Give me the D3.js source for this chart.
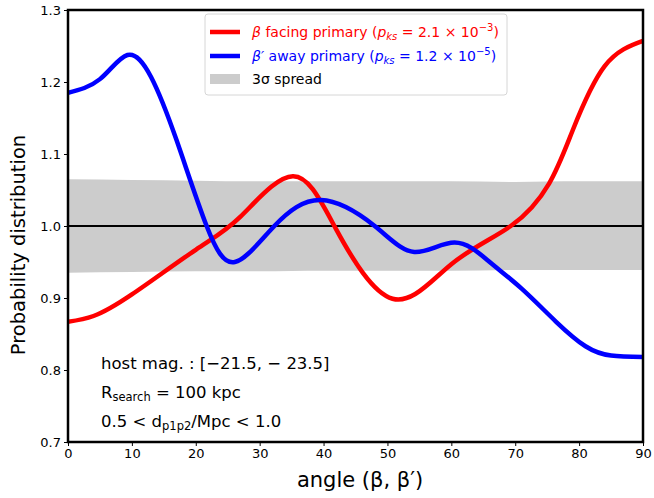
<!DOCTYPE html>
<html>
<head>
<meta charset="utf-8">
<script src="https://cdn.jsdelivr.net/npm/d3@7"></script>
<style>
  body { margin: 0; background: #fff; }
  svg { font-family: "DejaVu Sans", sans-serif; }
</style>
</head>
<body>
<svg id="chart" width="654" height="498"></svg>
<script>
// values
const redAngles  = [0, 4, 10, 20, 27, 35.2, 42, 50.8, 60, 69.3, 75.3, 79, 84, 90];
const redValues  = [0.867, 0.875, 0.905, 0.967, 1.013, 1.069, 0.995, 0.899, 0.947, 1.000, 1.059, 1.133, 1.222, 1.257];
const blueAngles = [0, 5, 9.3, 13, 17, 21.7, 26.1, 32.3, 39.6, 48, 54.2, 60.5, 66, 71, 76.4, 81, 85, 90];
const blueValues = [1.185, 1.204, 1.2375, 1.207, 1.119, 1.000, 0.950, 1.000, 1.036, 1.000, 0.964, 0.977, 0.950, 0.913, 0.867, 0.833, 0.820, 0.818];
const bandAngles = [0, 10, 20, 30, 40, 50, 60, 70, 80, 90];
const bandUpper  = [1.065, 1.064, 1.063, 1.062, 1.062, 1.062, 1.062, 1.061, 1.062, 1.062];
const bandLower  = [0.935, 0.936, 0.937, 0.937, 0.938, 0.938, 0.938, 0.939, 0.939, 0.939];
const xTicks = [0, 10, 20, 30, 40, 50, 60, 70, 80, 90];
const yTicks = [0.7, 0.8, 0.9, 1.0, 1.1, 1.2, 1.3];

const svg = d3.select('#chart');
const m = {left: 68, right: 643, top: 10, bottom: 442};

const x = d3.scaleLinear().domain([0, 90]).range([m.left, m.right]);
const y = d3.scaleLinear().domain([0.7, 1.3]).range([m.bottom, m.top]);

svg.append('clipPath').attr('id', 'plot-clip')
  .append('rect')
    .attr('x', m.left).attr('y', m.top)
    .attr('width', m.right - m.left).attr('height', m.bottom - m.top);

const g = svg.append('g').attr('clip-path', 'url(#plot-clip)');

// 3 sigma band
const band = bandAngles.map((a, i) => ({a: a, lo: bandLower[i], hi: bandUpper[i]}));
g.append('path')
    .datum(band)
    .attr('fill', '#cccccc')
    .attr('d', d3.area().x(d => x(d.a)).y0(d => y(d.lo)).y1(d => y(d.hi)).curve(d3.curveMonotoneX));

// reference line at 1
g.append('line')
    .attr('x1', x(0)).attr('x2', x(90))
    .attr('y1', y(1)).attr('y2', y(1))
    .attr('stroke', '#000').attr('stroke-width', 2);

const line = d3.line().x(d => x(d[0])).y(d => y(d[1])).curve(d3.curveNatural);

g.append('path')
    .datum(redAngles.map((a, i) => [a, redValues[i]]))
    .attr('fill', 'none').attr('stroke', '#ff0000').attr('stroke-width', 4.5)
    .attr('d', line);

g.append('path')
    .datum(blueAngles.map((a, i) => [a, blueValues[i]]))
    .attr('fill', 'none').attr('stroke', '#0000ff').attr('stroke-width', 4.5)
    .attr('d', line);

// axes
const xAxis = svg.append('g')
    .attr('transform', `translate(0,${m.bottom})`)
    .call(d3.axisBottom(x).tickValues(xTicks).tickSize(4).tickPadding(3).tickFormat(d3.format('d')));
const yAxis = svg.append('g')
    .attr('transform', `translate(${m.left},0)`)
    .call(d3.axisLeft(y).tickValues(yTicks).tickSize(4).tickPadding(3).tickFormat(d3.format('.1f')));

[xAxis, yAxis].forEach(ax => {
  ax.select('.domain').remove();
  ax.selectAll('text').attr('font-size', 13).attr('font-family', '"DejaVu Sans", sans-serif').attr('fill', '#000');
  ax.selectAll('line').attr('stroke', '#000').attr('stroke-width', 1);
});

// frame
svg.append('rect')
    .attr('x', m.left).attr('y', m.top)
    .attr('width', m.right - m.left).attr('height', m.bottom - m.top)
    .attr('fill', 'none').attr('stroke', '#000').attr('stroke-width', 2.5);

// axis labels
svg.append('text')
    .attr('x', 360).attr('y', 487)
    .attr('text-anchor', 'middle').attr('font-size', 21)
    .text('angle (β, β′)');

svg.append('text')
    .attr('transform', 'translate(25,245) rotate(-90)')
    .attr('text-anchor', 'middle').attr('font-size', 19.5)
    .text('Probability distribution');

// legend
const lg = svg.append('g');
lg.append('rect')
    .attr('x', 205).attr('y', 14).attr('width', 302).attr('height', 81)
    .attr('rx', 3).attr('fill', '#fff').attr('fill-opacity', 0.8)
    .attr('stroke', '#d6d6d6').attr('stroke-width', 1);

const legendRows = [
  {color: '#ff0000', kind: 'line', y: 32, name: ' facing primary (', sym: 'β', val: '2.1 × 10', exp: '−3'},
  {color: '#0000ff', kind: 'line', y: 56, name: ' away primary (', sym: 'β′', val: '1.2 × 10', exp: '−5'},
  {color: '#cccccc', kind: 'patch', y: 79}
];

legendRows.forEach(r => {
  if (r.kind === 'line') {
    lg.append('line').attr('x1', 210).attr('x2', 240).attr('y1', r.y).attr('y2', r.y)
        .attr('stroke', r.color).attr('stroke-width', 4.5);
    const t = lg.append('text').attr('x', 252).attr('y', r.y + 5).attr('font-size', 14).attr('fill', r.color);
    t.append('tspan').attr('font-style', 'italic').text(r.sym);
    t.append('tspan').text(r.name);
    t.append('tspan').attr('font-style', 'italic').text('p');
    t.append('tspan').attr('font-style', 'italic').attr('font-size', 10).attr('dy', 3).text('ks');
    t.append('tspan').attr('dy', -3).text(' = ' + r.val);
    t.append('tspan').attr('font-size', 10).attr('dy', -6).text(r.exp);
    t.append('tspan').attr('dy', 6).text(')');
  } else {
    lg.append('rect').attr('x', 210).attr('y', r.y - 5).attr('width', 30).attr('height', 10).attr('fill', r.color);
    lg.append('text').attr('x', 252).attr('y', r.y + 5).attr('font-size', 14).attr('fill', '#000').text('3σ spread');
  }
});

// annotations
const ann = svg.append('g').attr('font-size', 16.5).attr('fill', '#000');
ann.append('text').attr('x', 101).attr('y', 369).text('host mag. : [−21.5, − 23.5]');
const r2 = ann.append('text').attr('x', 101).attr('y', 398);
r2.append('tspan').text('R');
r2.append('tspan').attr('font-size', 11.5).attr('dy', 3).text('search');
r2.append('tspan').attr('dy', -3).text(' = 100 kpc');
const r3 = ann.append('text').attr('x', 101).attr('y', 427);
r3.append('tspan').text('0.5 < d');
r3.append('tspan').attr('font-size', 11.5).attr('dy', 3).text('p1p2');
r3.append('tspan').attr('dy', -3).text('/Mpc < 1.0');
</script>
</body>
</html>
